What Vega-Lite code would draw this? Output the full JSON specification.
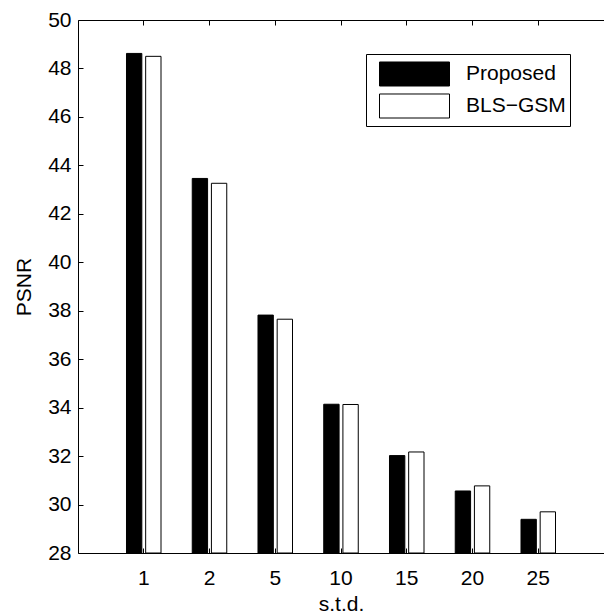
{
  "$schema": "https://vega.github.io/schema/vega-lite/v6.json",
  "width": 526,
  "height": 533,
  "autosize": "none",
  "padding": {"left": 78, "top": 20, "right": 0, "bottom": 61},
  "background": "white",
  "data": {
    "values": [
      {"std": "1", "method": "Proposed", "psnr": 48.62},
      {"std": "1", "method": "BLS−GSM", "psnr": 48.50},
      {"std": "2", "method": "Proposed", "psnr": 43.46},
      {"std": "2", "method": "BLS−GSM", "psnr": 43.26},
      {"std": "5", "method": "Proposed", "psnr": 37.82},
      {"std": "5", "method": "BLS−GSM", "psnr": 37.65},
      {"std": "10", "method": "Proposed", "psnr": 34.14},
      {"std": "10", "method": "BLS−GSM", "psnr": 34.13},
      {"std": "15", "method": "Proposed", "psnr": 32.02},
      {"std": "15", "method": "BLS−GSM", "psnr": 32.17},
      {"std": "20", "method": "Proposed", "psnr": 30.56},
      {"std": "20", "method": "BLS−GSM", "psnr": 30.77},
      {"std": "25", "method": "Proposed", "psnr": 29.39},
      {"std": "25", "method": "BLS−GSM", "psnr": 29.70}
    ]
  },
  "layer": [
    {
      "mark": {"type": "bar", "stroke": "black", "strokeWidth": 1},
      "encoding": {
        "x": {
          "field": "std",
          "type": "nominal",
          "sort": ["1", "2", "5", "10", "15", "20", "25"],
          "scale": {"paddingInner": 0.475, "paddingOuter": 0.7375},
          "axis": {
            "title": "s.t.d.",
            "labelAngle": 0,
            "tickSize": -5,
            "labelPadding": 19,
            "titlePadding": 5
          }
        },
        "xOffset": {
          "field": "method",
          "type": "nominal",
          "sort": ["Proposed", "BLS−GSM"],
          "scale": {"paddingInner": 0.2}
        },
        "y": {
          "field": "psnr",
          "type": "quantitative",
          "scale": {"domain": [28, 50], "nice": false, "zero": false},
          "axis": {
            "title": "PSNR",
            "values": [28, 30, 32, 34, 36, 38, 40, 42, 44, 46, 48, 50],
            "tickSize": -5,
            "labelPadding": 12,
            "titlePadding": 13
          }
        },
        "y2": {"datum": 28},
        "fill": {
          "field": "method",
          "type": "nominal",
          "scale": {"domain": ["Proposed", "BLS−GSM"], "range": ["black", "white"]},
          "legend": {"title": null}
        }
      }
    },
    {
      "mark": {"type": "point", "opacity": 0},
      "encoding": {
        "x": {
          "field": "std",
          "type": "nominal",
          "sort": ["1", "2", "5", "10", "15", "20", "25"],
          "axis": {"orient": "top", "labels": false, "title": null, "domain": true, "tickSize": -5}
        }
      }
    }
  ],
  "resolve": {"axis": {"x": "independent"}},
  "config": {
    "font": "Liberation Sans",
    "view": {"stroke": null},
    "axis": {
      "grid": false,
      "domainColor": "black",
      "tickColor": "black",
      "labelColor": "black",
      "titleColor": "black",
      "labelFont": "Liberation Sans",
      "titleFont": "Liberation Sans",
      "labelFontSize": 21,
      "titleFontSize": 21,
      "titleFontWeight": "normal"
    },
    "legend": {
      "orient": "none",
      "legendX": 288,
      "legendY": 34,
      "strokeColor": "black",
      "fillColor": "white",
      "padding": 4,
      "symbolType": "M-1,-0.343H1V0.343H-1Z",
      "symbolSize": 4900,
      "symbolStrokeColor": "black",
      "symbolStrokeWidth": 1,
      "clipHeight": 32,
      "rowPadding": 0,
      "symbolOffset": 9,
      "labelOffset": 16,
      "labelFont": "Liberation Sans",
      "labelFontSize": 21,
      "labelColor": "black"
    }
  }
}
